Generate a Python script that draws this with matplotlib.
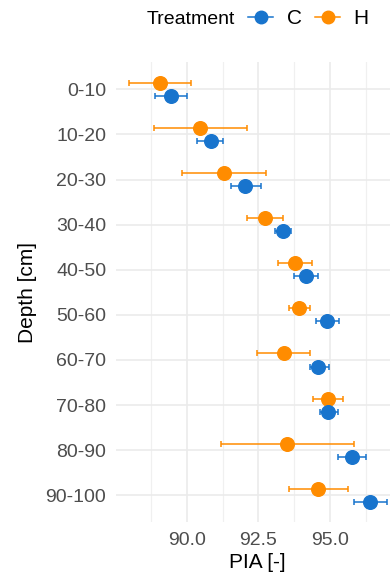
import matplotlib
matplotlib.use("Agg")
import matplotlib.pyplot as plt
from matplotlib.lines import Line2D
import numpy as np

plt.rcParams["font.family"] = ["Liberation Sans", "DejaVu Sans"]

# depth classes, top to bottom
depths = ["0-10", "10-20", "20-30", "30-40", "40-50",
          "50-60", "60-70", "70-80", "80-90", "90-100"]

# treatment C: mean and error-bar limits
c_mean = [89.44, 90.84, 92.05, 93.35, 94.15, 94.90, 94.60, 94.95, 95.76, 96.39]
c_lo = [88.88, 90.37, 91.53, 93.07, 93.73, 94.50, 94.29, 94.64, 95.27, 95.83]
c_hi = [90.01, 91.27, 92.59, 93.63, 94.57, 95.30, 94.97, 95.28, 96.25, 96.98]

# treatment H
h_mean = [89.06, 90.48, 91.31, 92.72, 93.77, 93.92, 93.38, 94.95, 93.49, 94.60]
h_lo = [87.98, 88.84, 89.85, 92.09, 93.17, 93.56, 92.44, 94.42, 91.18, 93.57]
h_hi = [90.14, 92.10, 92.76, 93.35, 94.36, 94.29, 94.30, 95.44, 95.83, 95.62]

xticks = [90.0, 92.5, 95.0]
xminor = [88.75, 91.25, 93.75, 96.25]

C_COL = "#1874CD"
H_COL = "#FF8C00"
DODGE = 0.145

fig = plt.figure(figsize=(3.9, 5.79), dpi=100)
ax = fig.add_axes([116 / 390, 1 - 522.4 / 579, (399.5 - 116) / 390, (522.4 - 62.2) / 579])

y = np.arange(len(depths))
series = [("H", h_mean, h_lo, h_hi, H_COL, -DODGE),
          ("C", c_mean, c_lo, c_hi, C_COL, DODGE)]
for name, m, lo, hi, col, off in series:
    m, lo, hi = np.array(m), np.array(lo), np.array(hi)
    ax.errorbar(m, y + off, xerr=[m - lo, hi - m], fmt="none", ecolor=col,
                elinewidth=1.1, capsize=2.2, capthick=1.1, zorder=3)
    ax.plot(m, y + off, "o", color=col, markersize=9.8, zorder=4)

ax.set_xlim(87.53, 97.43)
ax.set_ylim(len(depths) - 0.4, -0.6)
ax.set_yticks(y)
ax.set_yticklabels(depths)
ax.set_xticks(xticks)
ax.set_xticklabels([f"{t:.1f}" for t in xticks])
ax.set_xticks(xminor, minor=True)

ax.grid(True, which="major", color="#EBEBEB", lw=1.2, zorder=0)
ax.grid(True, which="minor", axis="x", color="#F0F0F0", lw=0.9, zorder=0)
ax.set_axisbelow(True)
for s in ax.spines.values():
    s.set_visible(False)
ax.tick_params(which="both", length=0, labelsize=14, labelcolor="#4D4D4D")
ax.tick_params(axis="y", pad=7)
ax.tick_params(axis="x", pad=7)

ax.set_xlabel("PIA [-]", fontsize=15, labelpad=3)
ax.set_ylabel("Depth [cm]", fontsize=15, labelpad=6)

# legend across the top
fig.text(147 / 390, 1 - 19 / 579, "Treatment", fontsize=14, va="center", ha="left")
handles = [Line2D([], [], color=C_COL, marker="o", markersize=9, lw=1.1),
           Line2D([], [], color=H_COL, marker="o", markersize=9, lw=1.1)]
fig.legend(handles, ["C", "H"], ncol=2, frameon=False, fontsize=15,
           loc="center left", bbox_to_anchor=(248 / 390, 1 - 19 / 579),
           handlelength=1.2, handletextpad=0.65, columnspacing=0.65,
           borderpad=0, borderaxespad=0)

fig.savefig("out.png", dpi=100)
